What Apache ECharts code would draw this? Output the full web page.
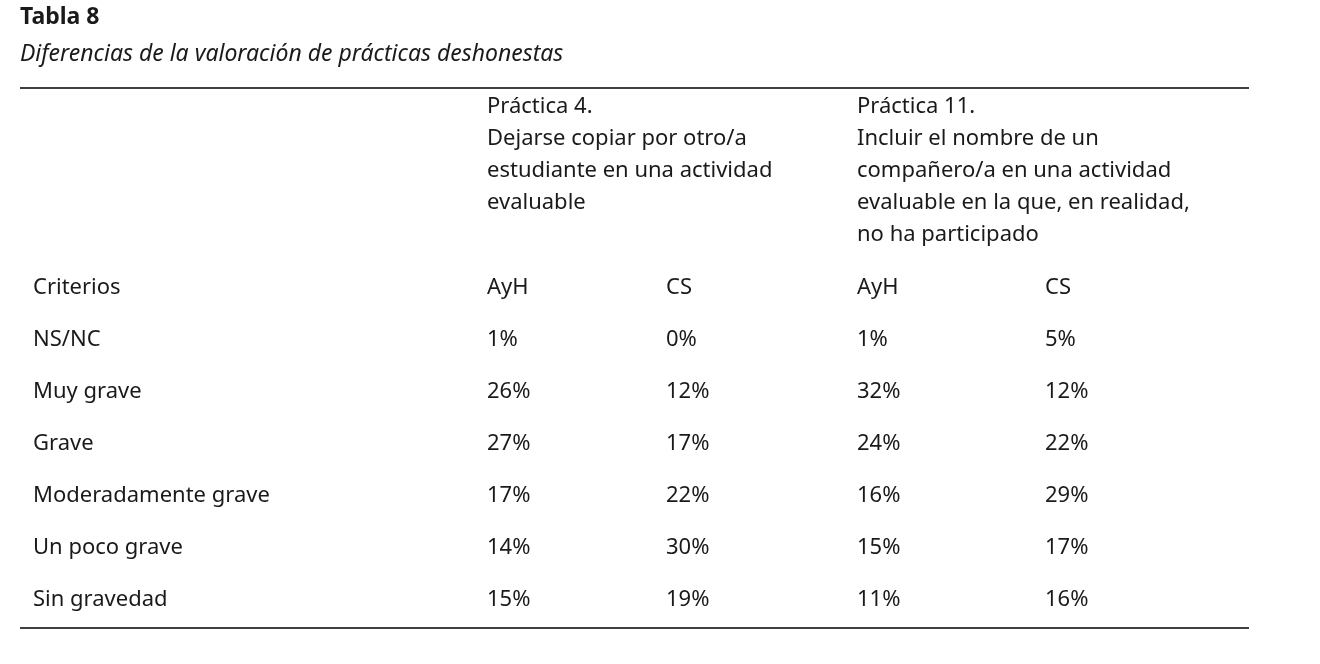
<!DOCTYPE html>
<html><head><meta charset="utf-8">
<script src="https://cdn.jsdelivr.net/npm/echarts@6/dist/echarts.min.js"></script>
<style>html,body{margin:0;padding:0;background:#fff}#c{width:1320px;height:664px}</style>
</head><body><div id="c"></div>
<script>
const title = "Tabla 8";
const subtitle = "Diferencias de la valoración de prácticas deshonestas";
const header4 = ["Práctica 4.", "Dejarse copiar por otro/a", "estudiante en una actividad", "evaluable"];
const header11 = ["Práctica 11.", "Incluir el nombre de un", "compañero/a en una actividad", "evaluable en la que, en realidad,", "no ha participado"];
const columns = ["Criterios", "AyH", "CS", "AyH", "CS"];
const criterios = ["NS/NC", "Muy grave", "Grave", "Moderadamente grave", "Un poco grave", "Sin gravedad"];
const p4AyH = [1, 26, 27, 17, 14, 15];
const p4CS = [0, 12, 17, 22, 30, 19];
const p11AyH = [1, 32, 24, 16, 15, 11];
const p11CS = [5, 12, 22, 29, 17, 16];

const FONT = "'Noto Sans', sans-serif";
const colX = [33, 487, 666, 857, 1045];
const els = [];
function t(x, y, s, extra) {
  els.push({type: 'text', left: x, top: y, style: Object.assign({text: s, fill: '#1a1a1a', font: '22px ' + FONT}, extra || {})});
}
t(20, 6, title, {font: 'bold 23px ' + FONT});
t(20, 43, subtitle, {font: 'italic 23px ' + FONT});
els.push({type: 'line', shape: {x1: 20, y1: 88, x2: 1249, y2: 88}, style: {stroke: '#000', lineWidth: 1.5}});
els.push({type: 'line', shape: {x1: 20, y1: 628, x2: 1249, y2: 628}, style: {stroke: '#000', lineWidth: 1.5}});
header4.forEach((s, i) => t(colX[1], 96 + i * 32, s));
header11.forEach((s, i) => t(colX[3], 96 + i * 32, s));
columns.forEach((s, i) => t(colX[i], 277, s));
criterios.forEach((c, r) => {
  const y = 329 + r * 52;
  t(colX[0], y, c);
  [p4AyH, p4CS, p11AyH, p11CS].forEach((arr, k) => t(colX[k + 1], y, arr[r] + '%'));
});
const chart = echarts.init(document.getElementById('c'));
chart.setOption({backgroundColor: '#fff', graphic: els});
</script></body></html>
